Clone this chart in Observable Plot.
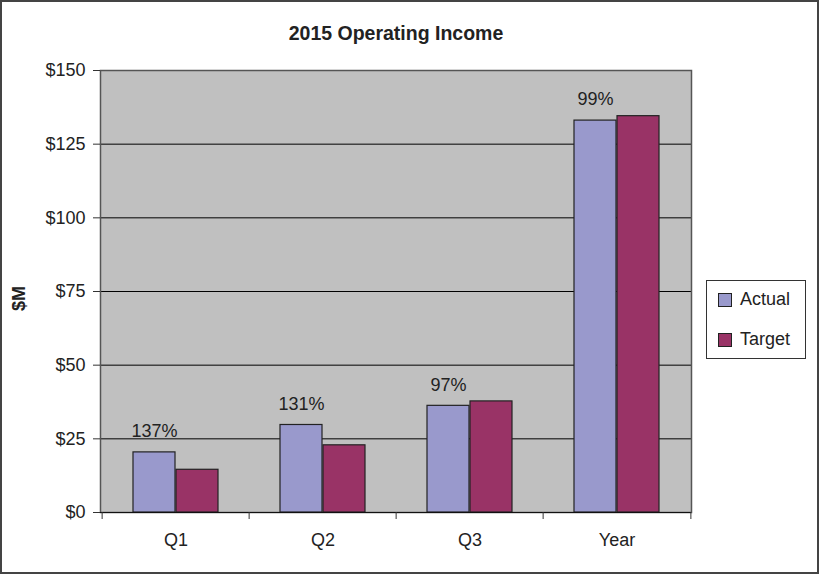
<!DOCTYPE html>
<html>
<head>
<meta charset="utf-8">
<script src="https://cdn.jsdelivr.net/npm/d3@7"></script>
<script src="https://cdn.jsdelivr.net/npm/@observablehq/plot@0.6"></script>
<style>
  html, body { margin: 0; padding: 0; background: #fff; }
  #wrap { position: relative; width: 819px; height: 574px; font-family: "Liberation Sans", Arial, sans-serif; }
  #border { position: absolute; left: 0; top: 0; width: 819px; height: 574px; box-sizing: border-box; border: 2px solid #444; pointer-events: none; }
  #legend { position: absolute; left: 706px; top: 280px; width: 100px; height: 79px; box-sizing: border-box; border: 1px solid #333; background: #fff; }
  .item { position: absolute; left: 11px; display: flex; align-items: center; font-size: 18px; color: #222; }
  .sw { width: 12px; height: 12px; border: 1px solid #222; margin-right: 8px; }
</style>
</head>
<body>
<div id="wrap"><div id="chart"></div><div id="legend"></div><div id="border"></div></div>
<script>
const categories = ["Q1", "Q2", "Q3", "Year"];
const actual = [20.4, 29.7, 36.2, 133.0];
const target = [14.5, 22.8, 37.7, 134.5];
const pctLabels = ["137%", "131%", "97%", "99%"];
const yTicks = [0, 25, 50, 75, 100, 125, 150];
const seriesNames = ["Actual", "Target"];
const seriesColors = ["#9999cc", "#993366"];

const data = categories.map((c, i) => ({cat: c, actual: actual[i], target: target[i], pct: pctLabels[i]}));

const band = (819 - 100 - 128) / categories.length;
const half = band / 2;

const chart = Plot.plot({
  width: 819,
  height: 574,
  marginLeft: 100,
  marginRight: 128,
  marginTop: 70,
  marginBottom: 62,
  style: {background: "transparent", fontFamily: "'Liberation Sans', Arial, sans-serif", fontSize: "18px", color: "#222"},
  x: {domain: categories, padding: 0, axis: null},
  y: {domain: [0, 150], axis: null},
  marks: [
    Plot.frame({fill: "#c0c0c0", stroke: "none"}),
    Plot.gridY(yTicks, {stroke: "#000", strokeOpacity: 1, strokeWidth: 1}),
    Plot.frame({stroke: "#555", strokeWidth: 1.5}),
    Plot.barY(data, {x: "cat", y: "actual", fill: seriesColors[0], stroke: "#222", strokeWidth: 1.2, insetLeft: 31, insetRight: 74}),
    Plot.barY(data, {x: "cat", y: "target", fill: seriesColors[1], stroke: "#222", strokeWidth: 1.2, insetLeft: 74, insetRight: 31}),
    Plot.ruleY([0], {stroke: "#111", strokeWidth: 1.2}),
    Plot.text(data, {x: "cat", y: "actual", text: "pct", dx: -(half - 52.4), dy: -21, fontSize: 18, fill: "#222"}),
    Plot.axisY(yTicks, {tickFormat: d => "$" + d, tickSize: 7, tickPadding: 8, fontSize: 18, stroke: "#333", fill: "#222", label: null}),
    Plot.axisX({tickSize: 7, dx: -half, tickFormat: () => "", stroke: "#333", label: null}),
    Plot.axisX(["Year"], {tickSize: 7, dx: half, tickFormat: () => "", stroke: "#333", label: null}),
    Plot.axisX({tickSize: 0, tickPadding: 21, fontSize: 18, fill: "#222", label: null}),
    Plot.text(["2015 Operating Income"], {frameAnchor: "top", lineAnchor: "middle", dy: -37, fontWeight: "bold", fontSize: 19.5, fill: "#222"}),
    Plot.text(["$M"], {frameAnchor: "left", textAnchor: "middle", lineAnchor: "middle", dx: -81, dy: 7, rotate: -90, fontWeight: "bold", fontSize: 18, fill: "#222"})
  ]
});
document.getElementById("chart").appendChild(chart);

const legend = document.getElementById("legend");
seriesNames.forEach((name, i) => {
  const item = document.createElement("div");
  item.className = "item";
  item.style.top = (i === 0 ? 8 : 48) + "px";
  const sw = document.createElement("div");
  sw.className = "sw";
  sw.style.background = seriesColors[i];
  item.appendChild(sw);
  item.appendChild(document.createTextNode(name));
  legend.appendChild(item);
});
</script>
</body>
</html>
